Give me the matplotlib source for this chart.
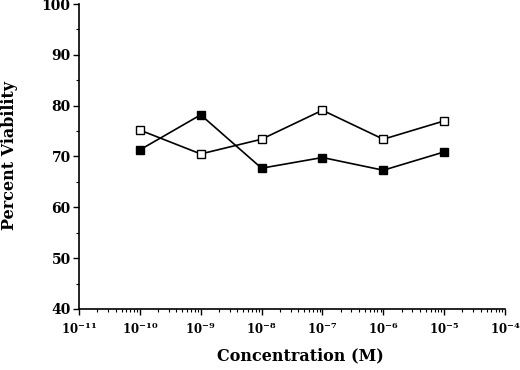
import matplotlib
matplotlib.use("Agg")
import matplotlib.pyplot as plt
from matplotlib.ticker import LogLocator, MultipleLocator, NullFormatter

concentration = [1e-10, 1e-9, 1e-8, 1e-7, 1e-6, 1e-5]
open_series = [75.2, 70.5, 73.4, 79.1, 73.4, 77.0]
filled_series = [71.3, 78.2, 67.7, 69.8, 67.3, 70.9]
x_ticks = [1e-11, 1e-10, 1e-9, 1e-8, 1e-7, 1e-6, 1e-5, 1e-4]
x_tick_labels = [r"$\mathbf{10^{-11}}$", r"$\mathbf{10^{-10}}$", r"$\mathbf{10^{-9}}$", r"$\mathbf{10^{-8}}$",
                 r"$\mathbf{10^{-7}}$", r"$\mathbf{10^{-6}}$", r"$\mathbf{10^{-5}}$", r"$\mathbf{10^{-4}}$"]
y_ticks = [40, 50, 60, 70, 80, 90, 100]

plt.rcParams['font.family'] = ['DejaVu Serif']
plt.rcParams['mathtext.fontset'] = 'dejavuserif'

fig = plt.figure(figsize=(5.2, 3.7), dpi=100)
ax = fig.add_axes([79/520, 1-309/370, (505-79)/520, (309-4)/370])

ax.plot(concentration, filled_series, color='black', lw=1.2, marker='s',
        markersize=6, markerfacecolor='black', markeredgecolor='black', zorder=3)
ax.plot(concentration, open_series, color='black', lw=1.2, marker='s',
        markersize=6, markerfacecolor='white', markeredgecolor='black',
        markeredgewidth=1.0, zorder=4)

ax.set_xscale('log')
ax.set_xlim(1e-11, 1e-4)
ax.set_ylim(40, 100)
ax.set_xticks(x_ticks)
ax.set_xticklabels(x_tick_labels, fontsize=8.5)
ax.xaxis.set_minor_locator(LogLocator(base=10, subs=range(2, 10), numticks=20))
ax.xaxis.set_minor_formatter(NullFormatter())
ax.set_yticks(y_ticks)
ax.set_yticklabels([str(v) for v in y_ticks], fontsize=10, fontweight='bold')
ax.yaxis.set_minor_locator(MultipleLocator(5))

for s in ['top', 'right']:
    ax.spines[s].set_visible(False)
for s in ['left', 'bottom']:
    ax.spines[s].set_linewidth(1.2)

ax.tick_params(axis='both', which='major', direction='out', length=4, width=1.0, pad=2)
ax.tick_params(axis='both', which='minor', direction='out', length=2, width=0.8)
ax.tick_params(axis='x', which='major', pad=5)

fig.text(10/520, 1-156/370, 'Percent Viability', rotation=90, fontsize=11.5,
         fontweight='bold', ha='center', va='center')
fig.text(300/520, 1-356/370, 'Concentration (M)', fontsize=11.5,
         fontweight='bold', ha='center', va='center')

fig.savefig('out.png', dpi=100)
